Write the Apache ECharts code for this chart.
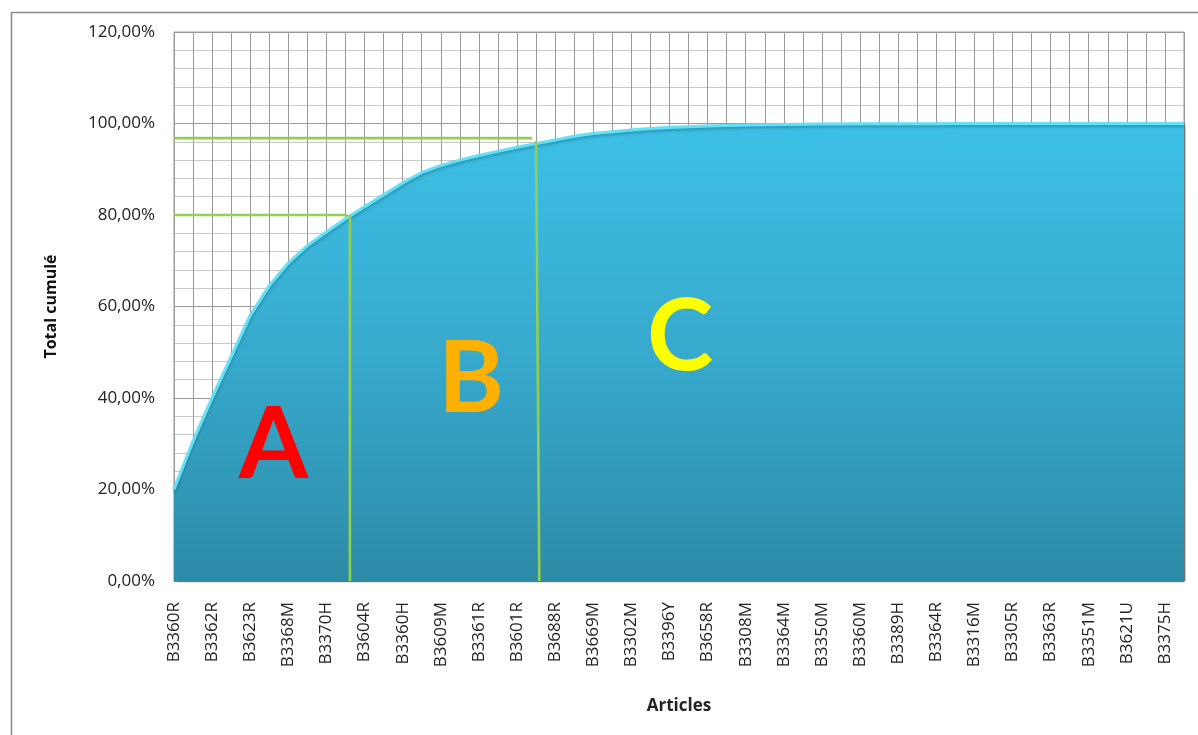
<!DOCTYPE html>
<html>
<head>
<meta charset="utf-8">
<title>Courbe ABC - Total cumulé</title>
<script src="https://cdn.jsdelivr.net/npm/echarts@6/dist/echarts.min.js"></script>
<style>
  html, body { margin: 0; padding: 0; background: #fff; }
  #chart { width: 1198px; height: 735px; }
</style>
</head>
<body>
<div id="chart"></div>
<script>
// Labelled articles (one label every second article on the axis)
const articleLabels = [
  'B3360R', 'B3362R', 'B3623R', 'B3368M', 'B3370H', 'B3604R', 'B3360H',
  'B3609M', 'B3361R', 'B3601R', 'B3688R', 'B3669M', 'B3302M', 'B3396Y',
  'B3658R', 'B3308M', 'B3364M', 'B3350M', 'B3360M', 'B3389H', 'B3364R',
  'B3316M', 'B3305R', 'B3363R', 'B3351M', 'B3621U', 'B3375H'
];

// Cumulative total (%) for each of the 54 articles, in order
const cumulative = [
  20.0, 30.5, 40.0, 49.0, 58.0, 64.5, 69.5, 73.3, 76.3, 79.2,
  81.8, 84.4, 87.0, 89.3, 90.8, 92.0, 93.0, 93.9, 94.8, 95.6,
  96.4, 97.2, 97.8, 98.2, 98.6, 98.9, 99.1, 99.3, 99.45, 99.55,
  99.65, 99.72, 99.78, 99.83, 99.87, 99.9, 99.92, 99.94, 99.95, 99.96,
  99.97, 99.98, 99.98, 99.99, 99.99, 99.99, 100, 100, 100, 100,
  100, 100, 100, 100
];

// Class boundaries drawn as guide lines: [article index, cumulative %]
const limitA_h = [[0, 80], [9.07, 80]];
const limitA_v = [[9.23, 80], [9.23, 0]];
const limitB_h = [[0, 96.8], [18.8, 96.8]];
const limitB_v = [[19.0, 96.2], [19.17, 0]];

// Class letters and where they sit: [article index, cumulative %]
const classNames = ['A', 'B', 'C'];
const classAnchors = [[5.22, 29.6], [15.6, 43.9], [26.55, 53.1]];
const classColors = ['#ff0000', '#ffb000', '#ffff00'];

const yTicks = { min: 0, max: 120, step: 20 };

const points = cumulative.map((v, i) => [i, v]);
const lastIndex = cumulative.length - 1;

const chart = echarts.init(document.getElementById('chart'), null, { renderer: 'canvas' });

const guide = (data) => ({
  type: 'line',
  data: data,
  symbol: 'none',
  silent: true,
  z: 5,
  lineStyle: { color: '#92d050', width: 2.6 },
  animation: false
});

chart.setOption({
  backgroundColor: '#ffffff',
  animation: false,
  graphic: [{
    type: 'rect',
    left: 9, top: 10,
    shape: { width: 1200, height: 740 },
    style: { fill: 'none', stroke: '#8c8c8c', lineWidth: 1.6 },
    silent: true
  }],
  grid: {
    left: 174, right: 14, top: 32, bottom: 154,
    show: true, borderColor: '#9a9a9a', borderWidth: 1,
    backgroundColor: 'transparent'
  },
  xAxis: {
    type: 'value',
    min: 0, max: lastIndex, interval: 1,
    name: 'Articles',
    nameLocation: 'middle',
    nameGap: 117,
    nameTextStyle: { fontFamily: 'Open Sans', fontWeight: 'bold', fontSize: 17, color: '#222' },
    axisLine: { show: false },
    axisTick: { show: false },
    axisLabel: {
      rotate: 90,
      margin: 21,
      fontFamily: 'Open Sans', fontSize: 17, color: '#222',
      formatter: (v) => (v % 2 === 0 && articleLabels[v / 2]) ? articleLabels[v / 2] : ''
    },
    splitLine: { show: true, lineStyle: { color: '#9a9a9a', width: 1 } }
  },
  yAxis: {
    type: 'value',
    min: yTicks.min, max: yTicks.max, interval: yTicks.step,
    name: 'Total cumulé',
    nameLocation: 'middle',
    nameGap: 115,
    nameRotate: 90,
    nameTextStyle: { fontFamily: 'Open Sans', fontWeight: 'bold', fontSize: 16, color: '#111' },
    axisLine: { show: false },
    axisTick: { show: false },
    axisLabel: {
      margin: 19,
      fontFamily: 'Open Sans', fontSize: 17, color: '#222',
      formatter: (v) => v.toFixed(2).replace('.', ',') + '%'
    },
    splitLine: { show: true, lineStyle: { color: '#9a9a9a', width: 1 } },
    minorTick: { show: false, splitNumber: 5 },
    minorSplitLine: { show: true, lineStyle: { color: '#c9c9c9', width: 1 } }
  },
  series: [
    {
      type: 'line',
      data: points,
      symbol: 'none',
      smooth: false,
      z: 3,
      lineStyle: {
        color: '#62e2f8', width: 3,
        shadowColor: 'rgba(0,70,90,0.35)', shadowBlur: 3, shadowOffsetY: 2
      },
      areaStyle: {
        opacity: 1,
        color: new echarts.graphic.LinearGradient(0, 0, 0, 1, [
          { offset: 0, color: '#3dc0e6' },
          { offset: 0.5, color: '#37aacd' },
          { offset: 1, color: '#2d8ba7' }
        ]),
        shadowColor: 'rgba(0,0,0,0.35)', shadowBlur: 4, shadowOffsetX: 2, shadowOffsetY: 2
      }
    },
    guide(limitA_h),
    guide(limitA_v),
    guide(limitB_h),
    guide(limitB_v),
    {
      type: 'scatter',
      symbolSize: 0,
      silent: true,
      z: 6,
      itemStyle: { opacity: 1 },
      data: classAnchors.map((p, i) => ({
        value: p,
        label: {
          show: true,
          position: 'inside',
          formatter: classNames[i],
          color: classColors[i],
          opacity: 1,
          fontFamily: 'Lato',
          fontWeight: 'bold',
          fontSize: 100
        }
      }))
    }
  ]
});
</script>
</body>
</html>
